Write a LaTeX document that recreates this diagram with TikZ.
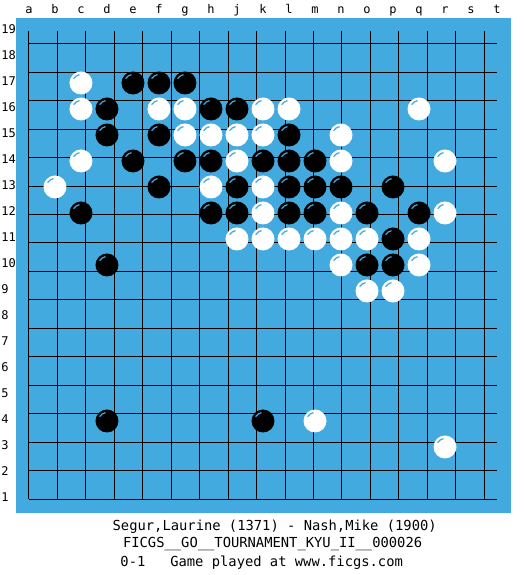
\documentclass[tikz,border=0pt]{standalone}
\usepackage{fontspec}
\setmonofont{DejaVu Sans Mono}
\definecolor{board}{RGB}{66,170,222}
\begin{document}
\begin{tikzpicture}[x=26pt, y=26pt,
    stone/.style={circle, inner sep=0pt, minimum size=23pt,
      path picture={\draw[board, line width=1.2pt]
        ([shift={(100:8.5pt)}]path picture bounding box.center) arc (100:150:8.5pt);}},
    bstone/.style={stone, fill=black},
    wstone/.style={stone, fill=white},
    lbl/.style={font=\ttfamily\fontsize{12}{13}\selectfont, inner sep=0pt},
    caption/.style={font=\ttfamily\fontsize{13.8}{15}\selectfont, inner sep=0pt, anchor=base}]

    \useasboundingbox (-1.115,-2.923) rectangle (19.077,19.192);

    \fill[board] (-0.5,-0.54) rectangle (18.54,18.5);
    \draw[line width=1pt] (0,0) grid (18,18);

    \foreach \c [count=\i from 0] in {a,b,c,d,e,f,g,h,j,k,l,m,n,o,p,q,r,s,t}
        \node[lbl, anchor=base] (col\c) at (\i,18.67) {\c};
    \foreach \r in {1,...,19}
        \node[lbl, anchor=base west] (row\r) at (-1.07,\r-1.08) {\r};

    % row 17
    \node[wstone] (c17) at (2,16) {};
    \node[bstone] (e17) at (4,16) {};
    \node[bstone] (f17) at (5,16) {};
    \node[bstone] (g17) at (6,16) {};
    % row 16
    \node[wstone] (c16) at (2,15) {};
    \node[bstone] (d16) at (3,15) {};
    \node[wstone] (f16) at (5,15) {};
    \node[wstone] (g16) at (6,15) {};
    \node[bstone] (h16) at (7,15) {};
    \node[bstone] (j16) at (8,15) {};
    \node[wstone] (k16) at (9,15) {};
    \node[wstone] (l16) at (10,15) {};
    \node[wstone] (q16) at (15,15) {};
    % row 15
    \node[bstone] (d15) at (3,14) {};
    \node[bstone] (f15) at (5,14) {};
    \node[wstone] (g15) at (6,14) {};
    \node[wstone] (h15) at (7,14) {};
    \node[wstone] (j15) at (8,14) {};
    \node[wstone] (k15) at (9,14) {};
    \node[bstone] (l15) at (10,14) {};
    \node[wstone] (n15) at (12,14) {};
    % row 14
    \node[wstone] (c14) at (2,13) {};
    \node[bstone] (e14) at (4,13) {};
    \node[bstone] (g14) at (6,13) {};
    \node[bstone] (h14) at (7,13) {};
    \node[wstone] (j14) at (8,13) {};
    \node[bstone] (k14) at (9,13) {};
    \node[bstone] (l14) at (10,13) {};
    \node[bstone] (m14) at (11,13) {};
    \node[wstone] (n14) at (12,13) {};
    \node[wstone] (r14) at (16,13) {};
    % row 13
    \node[wstone] (b13) at (1,12) {};
    \node[bstone] (f13) at (5,12) {};
    \node[wstone] (h13) at (7,12) {};
    \node[bstone] (j13) at (8,12) {};
    \node[wstone] (k13) at (9,12) {};
    \node[bstone] (l13) at (10,12) {};
    \node[bstone] (m13) at (11,12) {};
    \node[bstone] (n13) at (12,12) {};
    \node[bstone] (p13) at (14,12) {};
    % row 12
    \node[bstone] (c12) at (2,11) {};
    \node[bstone] (h12) at (7,11) {};
    \node[bstone] (j12) at (8,11) {};
    \node[wstone] (k12) at (9,11) {};
    \node[bstone] (l12) at (10,11) {};
    \node[bstone] (m12) at (11,11) {};
    \node[wstone] (n12) at (12,11) {};
    \node[bstone] (o12) at (13,11) {};
    \node[bstone] (q12) at (15,11) {};
    \node[wstone] (r12) at (16,11) {};
    % row 11
    \node[wstone] (j11) at (8,10) {};
    \node[wstone] (k11) at (9,10) {};
    \node[wstone] (l11) at (10,10) {};
    \node[wstone] (m11) at (11,10) {};
    \node[wstone] (n11) at (12,10) {};
    \node[wstone] (o11) at (13,10) {};
    \node[bstone] (p11) at (14,10) {};
    \node[wstone] (q11) at (15,10) {};
    % row 10
    \node[bstone] (d10) at (3,9) {};
    \node[wstone] (n10) at (12,9) {};
    \node[bstone] (o10) at (13,9) {};
    \node[bstone] (p10) at (14,9) {};
    \node[wstone] (q10) at (15,9) {};
    % row 9
    \node[wstone] (o9) at (13,8) {};
    \node[wstone] (p9) at (14,8) {};
    % rows 4 and 3
    \node[bstone] (d4) at (3,3) {};
    \node[bstone] (k4) at (9,3) {};
    \node[wstone] (m4) at (11,3) {};
    \node[wstone] (r3) at (16,2) {};

    \node[caption] (players) at (9.45,-1.22) {Segur,Laurine (1371) - Nash,Mike (1900)};
    \node[caption] (event) at (9.37,-1.873) {FICGS\_\_GO\_\_TOURNAMENT\_KYU\_II\_\_000026};
    \node[caption] (result) at (8.95,-2.604) {0-1\ \ \ Game played at www.ficgs.com};

\end{tikzpicture}
\end{document}
